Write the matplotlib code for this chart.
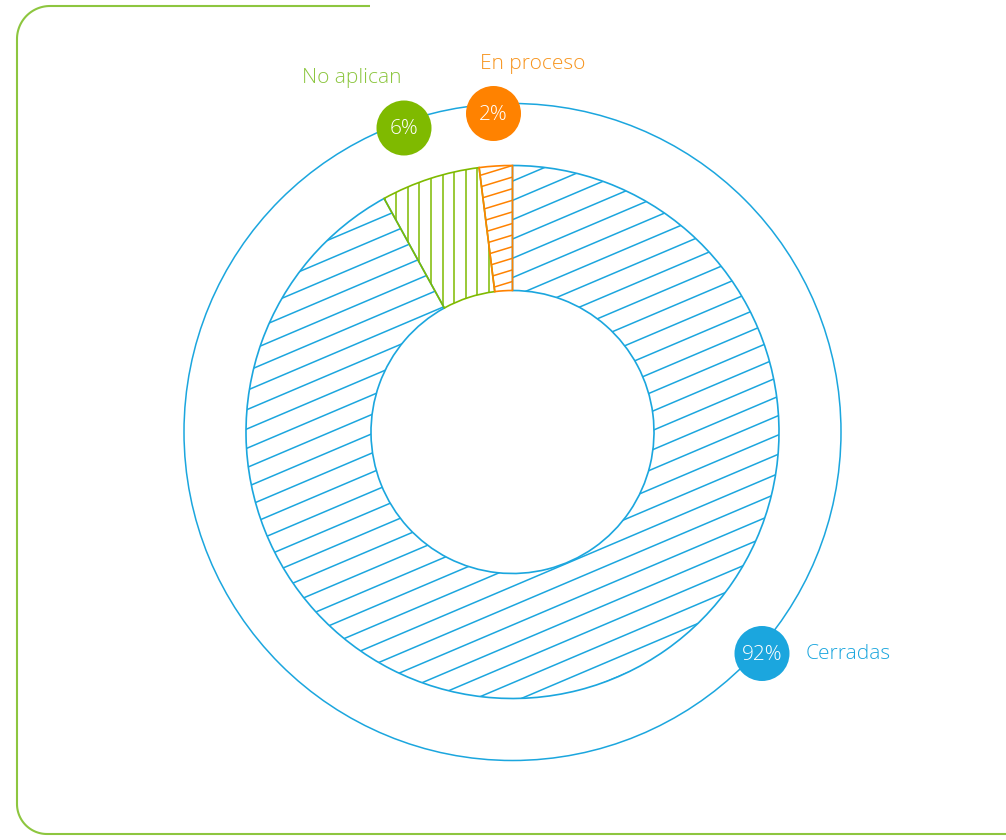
import numpy as np
import matplotlib
matplotlib.use('Agg')
import matplotlib.pyplot as plt
from matplotlib.collections import LineCollection
from matplotlib.patches import Circle, Wedge

labels = ['Cerradas', 'No aplican', 'En proceso']
values = [92, 6, 2]
pct_labels = ['92%', '6%', '2%']

blue = '#1BA6DE'
green = '#7FBA00'
orange = '#FF8200'
colors = [blue, green, orange]
text_colors = ['#1BA6DE', '#8CC63F', '#F7941D']

H = 840
def Y(y):
    # picture rows -> data coords
    return H - y

plt.rcParams['font.family'] = ['Open Sans', 'DejaVu Sans']

fig = plt.figure(figsize=(10.06, 8.4), dpi=100)
ax = fig.add_axes([0, 0, 1, 1])

cx, cy = 512.5, Y(432)
r_out, r_in = 266.5, 141.5

wedges, _ = ax.pie(values, colors=['white'] * 3, startangle=90, counterclock=False,
                   center=(cx, cy), radius=r_out, frame=True,
                   wedgeprops=dict(width=r_out - r_in, linewidth=0))
ax.set_xlim(0, 1006)
ax.set_ylim(0, H)
ax.axis('off')

# hatch: angle in degrees, vertical spacing in px
hatches = [(23, 19.3), (90, 11.6), (17, 11.6)]
for w, col, (ang, vsp) in zip(wedges, colors, hatches):
    a = np.radians(ang)
    d = np.array([np.cos(a), np.sin(a)])
    n = np.array([-np.sin(a), np.cos(a)])
    sp = vsp * np.cos(a) if ang != 90 else vsp
    segs = []
    for c in np.arange(-r_out, r_out + sp, sp):
        p = np.array([cx, cy]) + c * n
        segs.append([p - d * 300, p + d * 300])
    lc = LineCollection(segs, colors=col, linewidths=1.1, zorder=3)
    ax.add_collection(lc)
    lc.set_clip_path(w)

# slice outlines, green under blue under orange
for i in [1, 0, 2]:
    w = wedges[i]
    ax.add_patch(Wedge((cx, cy), r_out, w.theta1, w.theta2, width=r_out - r_in,
                       facecolor='none', edgecolor=colors[i], linewidth=1.2, zorder=10 + i))

# outer thin ring
ax.add_patch(Circle((cx, cy), 328.5, facecolor='none', edgecolor=blue, linewidth=1.1, zorder=5))

# badges
badge_xy = [(762, 653.5), (404, 128), (493.5, 113.5)]
for (bx, by), col, txt in zip(badge_xy, colors, pct_labels):
    ax.add_patch(Circle((bx, Y(by)), 27.5, facecolor=col, edgecolor='none', zorder=20))
    ax.text(bx, Y(by) - 1, txt, color='white', fontsize=15, fontweight='light',
            ha='center', va='center', zorder=21)

label_xy = [(806, 654, 'left'), (352, 78, 'center'), (533, 64, 'center')]
for (lx, ly, ha), col, txt in zip(label_xy, text_colors, labels):
    ax.text(lx, Y(ly), txt, color=col, fontsize=15, fontweight='light', ha=ha, va='center')

# rounded frame
fc = '#8DC63F'
t = np.linspace(0, np.pi / 2, 30)
rt, rb = 33, 30
top = [(370, Y(6)), (17 + rt, Y(6))]
arc1 = [(17 + rt - rt * np.sin(s), Y(6 + rt - rt * np.cos(s))) for s in t]
arc2 = [(17 + rb - rb * np.cos(s), Y(834 - rb + rb * np.sin(s))) for s in t]
pts = np.array(top + arc1 + arc2 + [(1006, Y(834))])
ax.plot(pts[:, 0], pts[:, 1], color=fc, linewidth=1.5, solid_capstyle='butt')

fig.savefig('out.png', dpi=100)
